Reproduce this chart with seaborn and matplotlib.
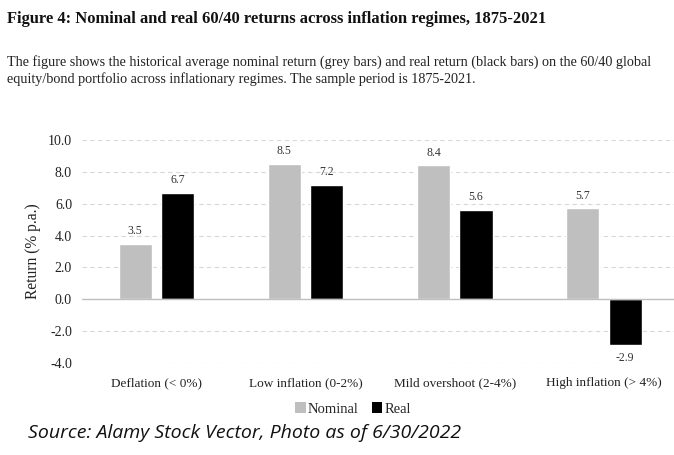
import matplotlib
matplotlib.use("Agg")
import matplotlib.pyplot as plt
import seaborn as sns
import pandas as pd
from matplotlib.patches import Patch

categories = ["Deflation (< 0%)", "Low inflation (0-2%)", "Mild overshoot (2-4%)", "High inflation (> 4%)"]
nominal = [3.5, 8.5, 8.4, 5.7]
real = [6.7, 7.2, 5.6, -2.9]
series = ["Nominal", "Real"]
yticks = [-4.0, -2.0, 0.0, 2.0, 4.0, 6.0, 8.0, 10.0]

title = "Figure 4: Nominal and real 60/40 returns across inflation regimes, 1875-2021"
subtitle1 = ("The figure shows the historical average nominal return (grey bars) and real return "
             "(black bars) on the 60/40 global")
subtitle2 = "equity/bond portfolio across inflationary regimes. The sample period is 1875-2021."
source = "Source: Alamy Stock Vector, Photo as of 6/30/2022"

df = pd.DataFrame({
    "Regime": categories * 2,
    "Series": ["Nominal"] * 4 + ["Real"] * 4,
    "Return": nominal + real,
})

sns.set_theme(style="white")
plt.rcParams["font.family"] = ["Liberation Serif", "DejaVu Serif"]

colors = {"Nominal": "#bfbfbf", "Real": "#000000"}

fig = plt.figure(figsize=(6.74, 4.55), dpi=100)
ax = fig.add_axes([81.8 / 674, 92 / 455, 596.8 / 674, 223 / 455])

sns.barplot(data=df, x="Regime", y="Return", hue="Series", order=categories,
            hue_order=series, palette=colors, width=0.57, gap=0.22,
            saturation=1, ax=ax, legend=False)

ax.set_ylim(-4, 10)
ax.set_xlim(-0.5, 3.5)
ax.set_yticks(yticks)
ax.set_yticklabels([f"{v:.1f}" for v in yticks], fontsize=10, color="#222222")
ax.tick_params(axis="y", length=0, pad=7)
ax.tick_params(axis="x", length=0, pad=10, labelsize=9.5, labelcolor="#222222")
ax.set_xlabel("")
ax.set_ylabel("Return (% p.a.)", fontsize=11.2, color="#222222", labelpad=5)

for v in yticks:
    if v == 0:
        continue
    ax.axhline(v, color="#d9d9d9", lw=0.8, ls=(0, (4, 3)), zorder=0)
ax.axhline(0, color="#bfbfbf", lw=1.0, zorder=1)

for s in ax.spines.values():
    s.set_visible(False)

for cont in ax.containers:
    for bar in cont:
        h = bar.get_height()
        x = bar.get_x() + bar.get_width() / 2
        if h >= 0:
            ax.annotate(f"{h:.1f}", (x, h), xytext=(0, 5), textcoords="offset points",
                        ha="center", va="bottom", fontsize=8.5, color="#333333")
        else:
            ax.annotate(f"{h:.1f}", (x, h), xytext=(0, -5), textcoords="offset points",
                        ha="center", va="top", fontsize=8.5, color="#333333")

handles = [Patch(facecolor=colors[s], edgecolor="none") for s in series]
fig.legend(handles, series, loc="center", bbox_to_anchor=(353 / 674, 1 - 409 / 455),
           ncol=2, frameon=False, fontsize=10.5, handlelength=0.7, handleheight=0.7,
           handletextpad=0.15, columnspacing=0.9, borderaxespad=0, borderpad=0)

fig.text(7 / 674, 1 - 19 / 455, title, fontsize=11.9, fontweight="bold", va="center", ha="left",
         color="#111111")
fig.text(7 / 674, 1 - 62 / 455, subtitle1, fontsize=10.2, va="center", ha="left", color="#222222")
fig.text(7 / 674, 1 - 79 / 455, subtitle2, fontsize=10.2, va="center", ha="left", color="#222222")
fig.text(28 / 674, 1 - 433 / 455, source, fontsize=14, style="italic", va="center", ha="left",
         color="#111111", family=["Open Sans", "DejaVu Sans"])

fig.savefig("out.png", dpi=100, facecolor="white")
